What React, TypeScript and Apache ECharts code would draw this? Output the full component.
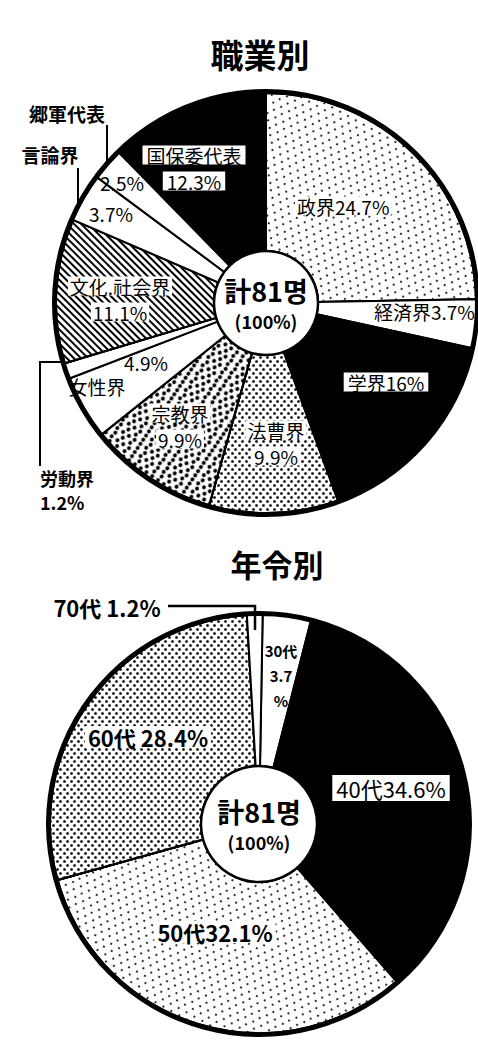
import React, { useEffect, useRef } from 'react';
import * as echarts from 'echarts';

// ---- data ----
const titles = ['職業別', '年令別'];
const jobNames = ['政界', '経済界', '学界', '法曹界', '宗教界', '女性界', '労動界', '文化.社会界', '言論界', '郷軍代表', '国保委代表'];
const jobValues = [24.7, 3.7, 16, 9.9, 9.9, 4.9, 1.2, 11.1, 3.7, 2.5, 12.3];
const ageNames = ['30代', '40代', '50代', '60代', '70代'];
const ageValues = [3.7, 34.6, 32.1, 28.4, 1.2];
const totalCount = 81;
const totalPct = 100;

// ---- layout / style ----
const FONT = '"Noto Sans CJK KR", "Noto Sans CJK JP", sans-serif';
const JOB_C = [266, 303];
const JOB_R = 210;
const JOB_IN = 52;
const AGE_C = [259, 824];
const AGE_R = 209;
const AGE_IN = 58;

type Fill = 'white' | 'black' | 'speckle' | 'dots' | 'mottle' | 'hatch';
const jobFills: Fill[] = ['speckle', 'white', 'black', 'dots', 'mottle', 'white', 'white', 'hatch', 'white', 'white', 'black'];
const ageFills: Fill[] = ['white', 'black', 'speckle', 'dots', 'white'];

const jobLab = [
  { x: 295, y: 206, align: 'left' },
  { x: 374, y: 311, align: 'left' },
  { x: 386, y: 382, align: 'center' },
  { x: 276, y: 443, align: 'center' },
  { x: 180, y: 426, align: 'center' },
  { x: 120, y: 374, align: 'center' },
  { x: 40, y: 490, align: 'left' },
  { x: 120, y: 299, align: 'center' },
  { x: 111, y: 213, align: 'center' },
  { x: 122, y: 182, align: 'center' },
  { x: 194, y: 168, align: 'center' },
];
const ageLab = [
  { x: 281, y: 675, align: 'center' },
  { x: 391, y: 788, align: 'center' },
  { x: 215, y: 932, align: 'center' },
  { x: 148, y: 737, align: 'center' },
  { x: 107, y: 607, align: 'center' },
];

function itemStyleFor(f: Fill): any {
  const base: any = { borderColor: '#000', borderWidth: 2 };
  if (f === 'black') return { ...base, color: '#000' };
  if (f === 'white') return { ...base, color: '#fff' };
  if (f === 'speckle')
    return {
      ...base,
      color: '#fff',
      decal: { symbol: 'rect', symbolSize: 1, color: '#333', dashArrayX: [[1.2, 7], [0, 4, 1.2, 3]], dashArrayY: [1.2, 3.5], rotation: 0.5 },
    };
  if (f === 'dots')
    return {
      ...base,
      color: '#fff',
      decal: { symbol: 'circle', symbolSize: 0.9, color: '#000', dashArrayX: [[2.6, 3.4], [0, 3, 2.6, 0.4]], dashArrayY: [2.6, 0.4] },
    };
  if (f === 'mottle')
    return {
      ...base,
      color: '#fff',
      decal: { symbol: 'circle', symbolSize: 1, color: '#000', dashArrayX: [[4.5, 2], [0, 3.2, 4.5, 0]], dashArrayY: [4, 0.8], rotation: 0.6 },
    };
  return {
    ...base,
    color: '#fff',
    decal: { symbol: 'rect', symbolSize: 1, color: '#000', dashArrayX: [1, 0], dashArrayY: [1.6, 2.4], rotation: Math.PI / 4 },
  };
}

function jobText(i: number): string {
  const n = jobNames[i];
  const v = jobValues[i] + '%';
  switch (i) {
    case 0:
      return `{w|${n}${v}}`;
    case 1:
      return `{t|${n}${v}}`;
    case 2:
      return `{box|${n}${v}}`;
    case 5:
      return `{p|${v}}\n{n|${n}}`;
    case 6:
      return `{o|${n}}\n{o|${v}}`;
    case 8:
    case 9:
      return `{t|${v}}`;
    case 10:
      return `{box|${n}}\n{box|${v}}`;
    default:
      return `{w|${n}}\n{w|${v}}`;
  }
}

function ageText(i: number): string {
  const n = ageNames[i];
  const v = ageValues[i];
  switch (i) {
    case 0:
      return `{s|${n}}\n{s|${v}}\n{s|%}`;
    case 1:
      return `{box2|${n}${v}%}`;
    case 4:
      return `{b|${n} ${v}%}`;
    case 3:
      return `{bw|${n} ${v}%}`;
    default:
      return `{bw|${n}${v}%}`;
  }
}

const rich = {
  t: { fontFamily: FONT, fontSize: 19, color: '#000', lineHeight: 26 },
  o: { fontFamily: FONT, fontSize: 18, color: '#000', lineHeight: 24, fontWeight: 'bold' },
  w: { fontFamily: FONT, fontSize: 19, color: '#000', lineHeight: 26, backgroundColor: '#fff', padding: [0, 2] },
  s: { fontFamily: FONT, fontSize: 15, color: '#000', lineHeight: 25, fontWeight: 'bold' },
  b: { fontFamily: FONT, fontSize: 22, color: '#000', lineHeight: 28, fontWeight: 'bold' },
  bw: { fontFamily: FONT, fontSize: 22, color: '#000', lineHeight: 28, fontWeight: 'bold', backgroundColor: '#fff', padding: [0, 3] },
  p: { fontFamily: FONT, fontSize: 19, color: '#000', lineHeight: 24, padding: [0, 0, 0, 52] },
  n: { fontFamily: FONT, fontSize: 19, color: '#000', lineHeight: 24, padding: [0, 46, 0, 0] },
  box: { fontFamily: FONT, fontSize: 19, color: '#000', backgroundColor: '#fff', padding: [0, 4], lineHeight: 26 },
  box2: { fontFamily: FONT, fontSize: 22, color: '#000', backgroundColor: '#fff', padding: [2, 4], lineHeight: 30 },
};

function pieSet(center: number[], rIn: number, rOut: number, names: string[], values: number[], fills: Fill[], lab: any[], fmt: (i: number) => string, startAngle: number) {
  return [
    {
      type: 'pie',
      center,
      radius: [rIn, rOut],
      startAngle,
      clockwise: true,
      silent: true,
      avoidLabelOverlap: false,
      labelLine: { show: false },
      label: {
        show: true,
        position: 'inside',
        formatter: (p: any) => fmt(p.dataIndex),
        rich,
      },
      labelLayout: (p: any) => {
        const L = lab[p.dataIndex];
        return { x: L.x, y: L.y, align: L.align, verticalAlign: 'middle', hideOverlap: false };
      },
      data: names.map((n, i) => ({ name: n, value: values[i], itemStyle: itemStyleFor(fills[i]) })),
      z: 2,
    },
    {
      type: 'pie',
      center,
      radius: [rOut, rOut + 4],
      silent: true,
      label: { show: false },
      labelLine: { show: false },
      data: [{ value: 1, name: 'ring', itemStyle: { color: '#000' } }],
      z: 3,
    },
    {
      type: 'pie',
      center,
      radius: [0, rIn],
      silent: true,
      labelLine: { show: false },
      label: {
        show: true,
        position: 'center',
        formatter: `{a|計${totalCount}명}\n{c|(${totalPct}%)}`,
        rich: {
          a: { fontFamily: FONT, fontSize: 27, fontWeight: 'bold', color: '#000', lineHeight: 36 },
          c: { fontFamily: FONT, fontSize: 18, fontWeight: 'bold', color: '#000', lineHeight: 26 },
        },
      },
      data: [{ value: 1, name: 'total', itemStyle: { color: '#fff', borderColor: '#000', borderWidth: 2.5 } }],
      z: 4,
    },
  ];
}

export default function App() {
  const ref = useRef<HTMLDivElement>(null);
  useEffect(() => {
    if (!ref.current) return;
    const chart = echarts.init(ref.current, undefined, { renderer: 'svg' });
    const lineStyle = { stroke: '#000', lineWidth: 2, fill: null };
    const outerText = { fontFamily: FONT, fontSize: 19, fontWeight: 'bold', fill: '#000' };
    chart.setOption({
      animation: false,
      backgroundColor: '#fff',
      graphic: [
        { type: 'text', x: 260, y: 54, style: { text: titles[0], fontFamily: FONT, fontSize: 33, fontWeight: 'bold', fill: '#000', align: 'center', verticalAlign: 'middle' } },
        { type: 'text', x: 277, y: 563, style: { text: titles[1], fontFamily: FONT, fontSize: 31, fontWeight: 'bold', fill: '#000', align: 'center', verticalAlign: 'middle' } },
        { type: 'text', x: 67, y: 113, style: { ...outerText, text: jobNames[9], align: 'center', verticalAlign: 'middle' } },
        { type: 'text', x: 50, y: 154, style: { ...outerText, text: jobNames[8], align: 'center', verticalAlign: 'middle' } },
        { type: 'polyline', z: 10, shape: { points: [[107, 125], [107, 166]] }, style: lineStyle },
        { type: 'polyline', z: 10, shape: { points: [[78, 168], [78, 206]] }, style: lineStyle },
        { type: 'polyline', z: 10, shape: { points: [[62, 362], [40, 362], [40, 466]] }, style: lineStyle },
        { type: 'polyline', z: 10, shape: { points: [[168, 606], [255, 606], [255, 630]] }, style: { ...lineStyle, lineWidth: 2.5 } },
      ],
      series: [
        ...pieSet(JOB_C, JOB_IN, JOB_R, jobNames, jobValues, jobFills, jobLab, jobText, 90),
        ...pieSet(AGE_C, AGE_IN, AGE_R, ageNames, ageValues, ageFills, ageLab, ageText, 89),
      ],
    });
    return () => chart.dispose();
  }, []);
  return <div ref={ref} style={{ position: 'absolute', left: 0, top: 0, width: 478, height: 1049, background: '#fff' }} />;
}
